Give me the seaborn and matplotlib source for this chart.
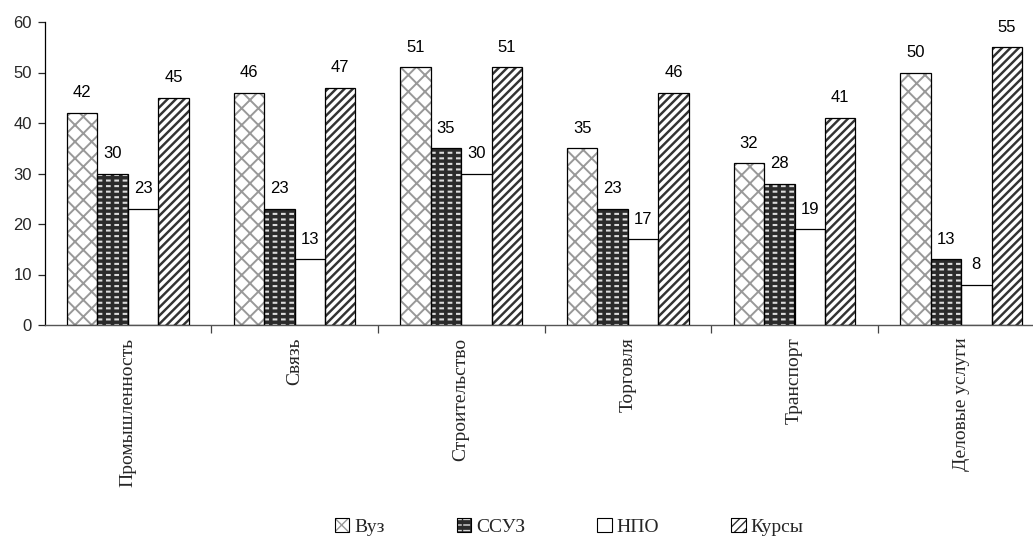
import matplotlib
matplotlib.use("Agg")
import matplotlib.pyplot as plt
import seaborn as sns
import pandas as pd
from matplotlib.patches import Rectangle, Patch
from matplotlib.legend_handler import HandlerTuple

categories = ["Промышленность", "Связь", "Строительство", "Торговля", "Транспорт", "Деловые услуги"]
series_names = ["Вуз", "ССУЗ", "НПО", "Курсы"]
vuz = [42, 46, 51, 35, 32, 50]
ssuz = [30, 23, 35, 23, 28, 13]
npo = [23, 13, 30, 17, 19, 8]
kursy = [45, 47, 51, 46, 41, 55]
y_ticks = [0, 10, 20, 30, 40, 50, 60]

values = [vuz, ssuz, npo, kursy]
rows = []
for name, vals in zip(series_names, values):
    for cat, v in zip(categories, vals):
        rows.append({"cat": cat, "series": name, "value": v})
df = pd.DataFrame(rows)

sns.set_style("ticks")
plt.rcParams["font.family"] = ["Liberation Sans", "DejaVu Sans"]
SERIF = ["Liberation Serif", "DejaVu Serif"]

fig = plt.figure(figsize=(10.33, 5.49), dpi=100)
ax = fig.add_axes([44.5 / 1033, 1 - 325 / 549, 1000 / 1033, 303 / 549])

sns.barplot(data=df, x="cat", y="value", hue="series", order=categories,
            hue_order=series_names, palette=["white"] * 4, width=0.73, gap=0,
            edgecolor="black", linewidth=0.9, legend=False, ax=ax, zorder=3)

DARK = "#2b2b2b"
# layers per series: list of (face, hatch, hatch color, hatch linewidth)
styles = {
    "Вуз": [("white", "xx", "#999999", 1.4)],
    "ССУЗ": [(DARK, "---", "#dcdcdc", 1.5), ("none", "||", DARK, 2.6)],
    "НПО": [("white", None, "white", 0.5)],
    "Курсы": [("white", "////", "#333333", 1.75)],
}

def make_layers(x, y, w, h, layers, zorder, cls=Rectangle, scale=1.0):
    arts = []
    for i, (face, hatch, hcol, hlw) in enumerate(layers):
        with plt.rc_context({"hatch.linewidth": hlw * scale}):
            if cls is Rectangle:
                r = Rectangle((x, y), w, h, facecolor=face, edgecolor=hcol,
                              hatch=hatch, linewidth=0, zorder=zorder + 0.1 * i)
            else:
                r = Patch(facecolor=face, edgecolor=hcol, hatch=hatch, linewidth=0)
        arts.append(r)
    return arts

for name, cont in zip(series_names, ax.containers):
    for bar in cont:
        bar.set_facecolor("none")
        bar.set_zorder(4)
        for a in make_layers(bar.get_x(), bar.get_y(), bar.get_width(), bar.get_height(),
                             styles[name], 2):
            ax.add_patch(a)
    ax.bar_label(cont, padding=9, fontsize=12, color="black")

ax.set_ylim(0, 60)
ax.set_yticks(y_ticks)
ax.set_xlim(-0.5, len(categories) - 0.5)
ax.set_xlabel("")
ax.set_ylabel("")
ax.tick_params(axis="y", labelsize=12, length=5, width=0.9, direction="out", pad=4)
ax.set_xticks(range(len(categories)))
ax.set_xticklabels(categories, rotation=90, fontsize=14, family=SERIF, va="top", ha="center")
ax.tick_params(axis="x", which="major", length=0, pad=9)
ax.set_xticks([i + 0.5 for i in range(len(categories) - 1)], minor=True)
ax.tick_params(axis="x", which="minor", length=6, width=0.9, color="#444444")
for s in ["top", "right"]:
    ax.spines[s].set_visible(False)
ax.spines["left"].set_color("black")
ax.spines["left"].set_linewidth(0.9)
ax.spines["bottom"].set_color("#555555")
ax.spines["bottom"].set_linewidth(1.0)
ax.grid(False)

handles = []
for name in series_names:
    layers = make_layers(0, 0, 1, 1, styles[name], 0, cls=Patch, scale=0.8)
    border = Patch(facecolor="none", edgecolor="black", linewidth=0.8)
    handles.append(tuple(layers) + (border,))

fig.legend(handles, series_names, handler_map={tuple: HandlerTuple(ndivide=1, pad=0)},
           loc="center", bbox_to_anchor=(569 / 1033, 1 - 527 / 549), ncol=4, frameon=False,
           prop={"family": SERIF, "size": 14}, handlelength=0.75, handleheight=0.75,
           handletextpad=0.25, columnspacing=3.7)

fig.savefig("out.png", dpi=100)
